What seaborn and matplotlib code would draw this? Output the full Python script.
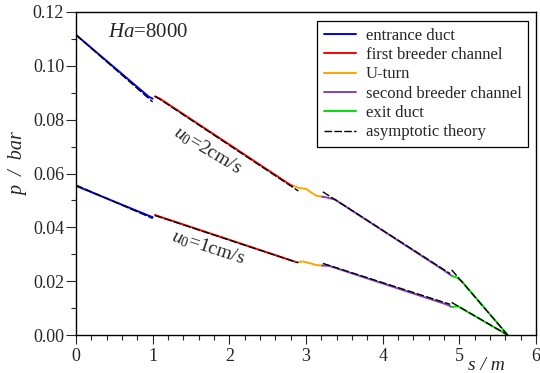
import matplotlib
matplotlib.use("Agg")
import matplotlib.pyplot as plt
import seaborn as sns
import pandas as pd
from matplotlib.lines import Line2D
from matplotlib.ticker import MultipleLocator
from matplotlib import font_manager

# ---------------- data ----------------
segment_names = ["entrance duct", "first breeder channel", "U-turn",
                 "second breeder channel", "exit duct"]
segment_colors = ["#0000ff", "#ff0000", "#ffa500", "#8040c0", "#00e000"]

# u0 = 2 cm/s  (numerical)
s_entr_2 = [0.0, 0.95, 1.00]
p_entr_2 = [0.1115, 0.0885, 0.0878]
s_fb_2 = [1.03, 1.10, 2.80, 2.84]
p_fb_2 = [0.0886, 0.0877, 0.0557, 0.0553]
s_ut_2 = [2.84, 2.90, 3.00, 3.08, 3.14, 3.21]
p_ut_2 = [0.0553, 0.0547, 0.0543, 0.0527, 0.0517, 0.0514]
s_sb_2 = [3.21, 3.27, 3.38, 4.80, 4.90]
p_sb_2 = [0.0514, 0.0511, 0.0503, 0.0240, 0.0220]
s_ex_2 = [4.90, 4.97, 5.03, 5.63]
p_ex_2 = [0.0220, 0.0213, 0.0200, 0.0]

# u0 = 1 cm/s  (numerical)
s_entr_1 = [0.0, 0.96, 1.00]
p_entr_1 = [0.0554, 0.0442, 0.0438]
s_fb_1 = [1.03, 1.08, 2.84, 2.87]
p_fb_1 = [0.0446, 0.0441, 0.0274, 0.0271]
s_ut_1 = [2.87, 2.96, 3.05, 3.13, 3.21]
p_ut_1 = [0.0271, 0.0273, 0.0267, 0.0260, 0.0258]
s_sb_1 = [3.21, 3.30, 4.84, 4.90]
p_sb_1 = [0.0258, 0.0257, 0.0113, 0.0104]
s_ex_1 = [4.90, 4.98, 5.63]
p_ex_1 = [0.0104, 0.0107, 0.0]

# asymptotic theory (straight sections)
s_th_entr = [0.0, 1.00]
p_th_entr_2 = [0.1115, 0.0866]
p_th_entr_1 = [0.0557, 0.0433]
s_th_fb = [1.03, 2.90]
p_th_fb_2 = [0.0888, 0.0535]
p_th_fb_1 = [0.0444, 0.0268]
s_th_sb = [3.22, 4.88]
p_th_sb_2 = [0.0532, 0.0228]
p_th_sb_1 = [0.0266, 0.0114]
s_th_ex = [4.90, 5.63]
p_th_ex_2 = [0.0242, 0.0]
p_th_ex_1 = [0.0121, 0.0]

x_ticks = [0, 1, 2, 3, 4, 5, 6]
y_ticks = [0.00, 0.02, 0.04, 0.06, 0.08, 0.10, 0.12]

# ---------------- style ----------------
sns.set_style("ticks")
serif_names = {f.name for f in font_manager.fontManager.ttflist}
serif_pick = [n for n in ["Liberation Serif", "DejaVu Serif"] if n in serif_names]
plt.rcParams["font.family"] = "serif"
plt.rcParams["font.serif"] = serif_pick + ["DejaVu Serif"]
plt.rcParams["mathtext.fontset"] = "custom"
plt.rcParams["mathtext.rm"] = serif_pick[0] if serif_pick else "serif"
plt.rcParams["mathtext.it"] = (serif_pick[0] + ":italic") if serif_pick else "serif:italic"
plt.rcParams["axes.edgecolor"] = "black"
plt.rcParams["axes.linewidth"] = 1.0

fig = plt.figure(figsize=(5.4, 3.73), dpi=100)
ax = fig.add_axes([76 / 540, 38 / 373, 460 / 540, 323 / 373])

num_2 = [(s_entr_2, p_entr_2), (s_fb_2, p_fb_2), (s_ut_2, p_ut_2),
         (s_sb_2, p_sb_2), (s_ex_2, p_ex_2)]
num_1 = [(s_entr_1, p_entr_1), (s_fb_1, p_fb_1), (s_ut_1, p_ut_1),
         (s_sb_1, p_sb_1), (s_ex_1, p_ex_1)]
for case in (num_2, num_1):
    for (s, p), col in zip(case, segment_colors):
        df = pd.DataFrame({"s": s, "p": p})
        sns.lineplot(data=df, x="s", y="p", color=col, lw=1.4, ax=ax,
                     sort=False, estimator=None)

theory = [(s_th_entr, p_th_entr_2), (s_th_entr, p_th_entr_1),
          (s_th_fb, p_th_fb_2), (s_th_fb, p_th_fb_1),
          (s_th_sb, p_th_sb_2), (s_th_sb, p_th_sb_1),
          (s_th_ex, p_th_ex_2), (s_th_ex, p_th_ex_1)]
for s, p in theory:
    df = pd.DataFrame({"s": s, "p": p})
    sns.lineplot(data=df, x="s", y="p", color="black", lw=1.0, ax=ax,
                 sort=False, estimator=None, dashes=False,
                 linestyle=(0, (5.5, 1.6)))

ax.set_xlim(0, 6)
ax.set_ylim(0, 0.12)
ax.set_xticks(x_ticks)
ax.set_yticks(y_ticks)
ax.set_xticklabels([str(t) for t in x_ticks])
ax.set_yticklabels([f"{t:.2f}" for t in y_ticks])
ax.xaxis.set_minor_locator(MultipleLocator(0.2))
ax.yaxis.set_minor_locator(MultipleLocator(0.01))
ax.tick_params(axis="x", which="major", direction="out", length=6.5, width=0.8,
               labelsize=13, pad=3, top=False)
ax.tick_params(axis="x", which="minor", direction="out", length=3.3, width=0.8,
               top=False)
ax.tick_params(axis="y", which="major", direction="out", length=7.5, width=0.8,
               labelsize=13, pad=1, right=False)
ax.tick_params(axis="y", which="minor", direction="out", length=3.5, width=0.8,
               right=False)
for sp in ax.spines.values():
    sp.set_visible(True)
    sp.set_linewidth(1.0)
    sp.set_color("black")

ax.set_xlabel("s / m", fontsize=14, style="italic")
ax.xaxis.set_label_coords(0.893, -0.095)
ax.xaxis.label.set_va("center")
ax.set_ylabel("p  /  bar", fontsize=14.5, style="italic")
ax.yaxis.set_label_coords(-0.124, 0.53)
ax.yaxis.label.set_va("center")

ax.text(0.94, 0.1125, r"$Ha$=8000", fontsize=15, ha="center", va="center")
ax.text(1.72, 0.0688, r"$u_0$=2cm/s", fontsize=14, ha="center", va="center",
        rotation=-31, rotation_mode="anchor")
ax.text(1.72, 0.0327, r"$u_0$=1cm/s", fontsize=14, ha="center", va="center",
        rotation=-18, rotation_mode="anchor")

handles = [Line2D([], [], color=c, lw=1.4) for c in segment_colors]
handles.append(Line2D([], [], color="black", lw=1.0, linestyle=(0, (5.5, 1.6))))
labels = segment_names + ["asymptotic theory"]
leg = ax.legend(handles, labels, loc="upper right",
                bbox_to_anchor=(0.983, 0.972), borderaxespad=0,
                fontsize=12, frameon=True, fancybox=False, framealpha=1,
                edgecolor="black", handlelength=1.9, handletextpad=0.6,
                labelspacing=0.2, borderpad=0.4)
leg.get_frame().set_linewidth(0.9)

fig.savefig("out.png", dpi=100)
